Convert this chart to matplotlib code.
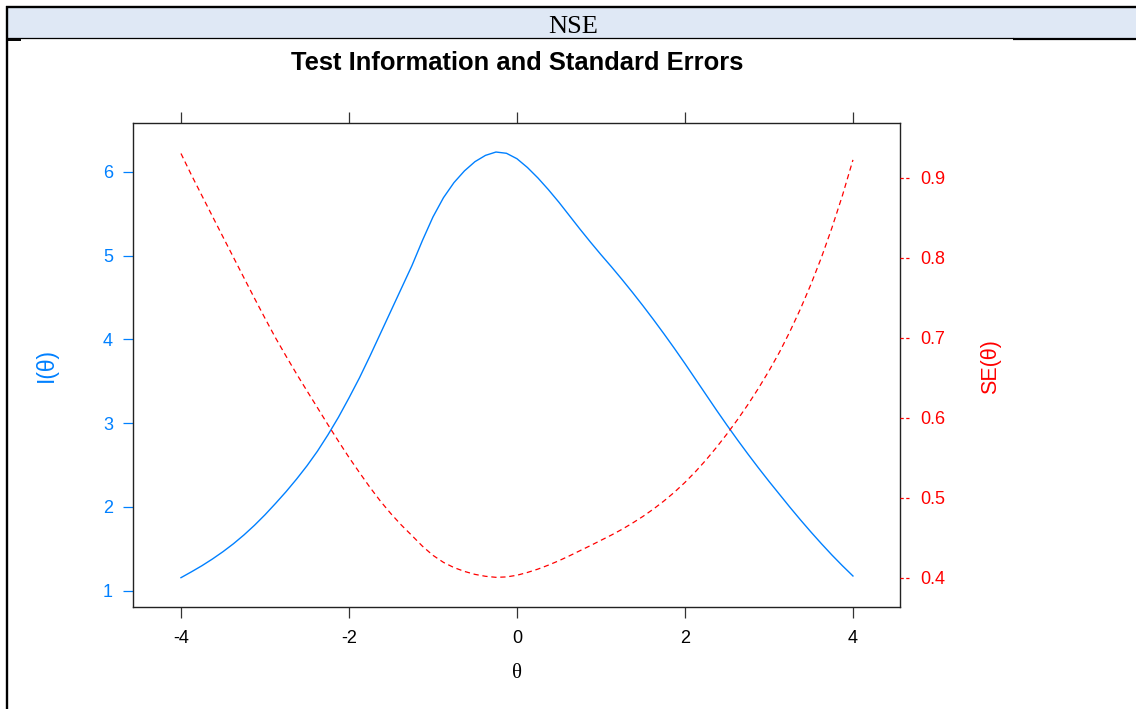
import matplotlib
matplotlib.use("Agg")
import matplotlib.pyplot as plt
from matplotlib.lines import Line2D
from matplotlib.patches import Rectangle

# Test information curve I(theta) and its standard error SE(theta)
theta = [-4.0, -3.875, -3.75, -3.625, -3.5, -3.375, -3.25, -3.125, -3.0,
         -2.875, -2.75, -2.625, -2.5, -2.375, -2.25, -2.125, -2.0, -1.875,
         -1.75, -1.625, -1.5, -1.375, -1.25, -1.125, -1.0, -0.875, -0.75,
         -0.625, -0.5, -0.375, -0.25, -0.125, 0.0, 0.125, 0.25, 0.375, 0.5,
         0.625, 0.75, 0.875, 1.0, 1.125, 1.25, 1.375, 1.5, 1.625, 1.75, 1.875,
         2.0, 2.125, 2.25, 2.375, 2.5, 2.625, 2.75, 2.875, 3.0, 3.125, 3.25,
         3.375, 3.5, 3.625, 3.75, 3.875, 4.0]
info = [1.155, 1.225, 1.298, 1.378, 1.465, 1.56, 1.665, 1.78, 1.905,
        2.04, 2.18, 2.33, 2.49, 2.665, 2.86, 3.07, 3.30, 3.54,
        3.80, 4.07, 4.34, 4.61, 4.88, 5.18, 5.46, 5.69, 5.87,
        6.01, 6.12, 6.195, 6.235, 6.22, 6.155, 6.05, 5.925, 5.785, 5.635,
        5.475, 5.315, 5.16, 5.01, 4.865, 4.715, 4.56, 4.40, 4.235, 4.065, 3.89,
        3.71, 3.525, 3.34, 3.155, 2.975, 2.80, 2.63, 2.465, 2.305, 2.15, 1.995,
        1.845, 1.70, 1.56, 1.425, 1.297, 1.175]
se = [0.9305, 0.9035, 0.8777, 0.8519, 0.8262, 0.8006, 0.7750, 0.7495, 0.7245,
      0.7001, 0.6773, 0.6551, 0.6337, 0.6126, 0.5913, 0.5707, 0.5505, 0.5315,
      0.5130, 0.4957, 0.4800, 0.4657, 0.4527, 0.4394, 0.4280, 0.4192, 0.4127,
      0.4079, 0.4042, 0.4018, 0.4005, 0.4010, 0.4031, 0.4066, 0.4108, 0.4158,
      0.4213, 0.4274, 0.4338, 0.4402, 0.4468, 0.4534, 0.4605, 0.4683, 0.4767,
      0.4859, 0.4960, 0.5070, 0.5192, 0.5326, 0.5472, 0.5630, 0.5798, 0.5976,
      0.6166, 0.6369, 0.6587, 0.6820, 0.7080, 0.7362, 0.7670, 0.8006, 0.8377,
      0.8781, 0.9225]

x_ticks = [-4, -2, 0, 2, 4]
info_ticks = [1, 2, 3, 4, 5, 6]
se_ticks = [0.4, 0.5, 0.6, 0.7, 0.8, 0.9]
se_tick_labels = ["0.4", "0.5", "0.6", "0.7", "0.8", "0.9"]

header_text = "NSE"
title_text = "Test Information and Standard Errors"

BLUE = "#0080ff"
RED = "#ff0000"
SANS = ["Liberation Sans", "DejaVu Sans"]
SERIF = ["Liberation Serif", "DejaVu Serif"]

W, H = 1136, 709
fig = plt.figure(figsize=(W / 100, H / 100), dpi=100)
fig.patch.set_facecolor("white")


def fx(px):
    return px / W


def fy(py):
    return 1 - py / H


# --- table-style header band and frame ---
fig.add_artist(Rectangle((fx(7), fy(38.5)), fx(1136) - fx(7), fy(7.5) - fy(38.5),
                         transform=fig.transFigure, facecolor="#dfe8f5",
                         edgecolor="none", zorder=0))
frame_kw = dict(transform=fig.transFigure, color="black", solid_capstyle="butt")
fig.add_artist(Line2D([fx(6), fx(1136)], [fy(7), fy(7)], lw=1.7, **frame_kw))
fig.add_artist(Line2D([fx(7), fx(7)], [fy(6), fy(709)], lw=1.7, **frame_kw))
fig.add_artist(Line2D([fx(7), fx(1013)], [fy(38.4), fy(38.4)], lw=0.9, **frame_kw))
fig.add_artist(Line2D([fx(1013), fx(1136)], [fy(39), fy(39)], lw=1.6, **frame_kw))
fig.add_artist(Line2D([fx(7), fx(21)], [fy(39.5), fy(39.5)], lw=1.4, **frame_kw))

fig.text(fx(573), fy(32.7), header_text, ha="center", va="baseline",
         fontsize=19, family=SERIF, color="black")

# --- main panel ---
ax = fig.add_axes([fx(133), fy(607), fx(900) - fx(133), fy(122.7) - fy(607)])
ax.plot(theta, info, color=BLUE, lw=1.0, solid_joinstyle="round")
ax.set_xlim(-4.571, 4.56)
ax.set_ylim(0.805, 6.585)
ax.set_xticks(x_ticks)
ax.set_xticklabels([str(t) for t in x_ticks], family=SANS, fontsize=13)
ax.set_yticks(info_ticks)
ax.set_yticklabels([str(t) for t in info_ticks], family=SANS, fontsize=13,
                   color=BLUE)
ax.tick_params(axis="x", which="both", direction="out", length=8, width=0.9,
               color="#333333", top=True, labeltop=False, pad=8.5)
ax.tick_params(axis="y", which="both", direction="out", length=7.5, width=0.9,
               color=BLUE, pad=7)
for sp in ax.spines.values():
    sp.set_linewidth(1.0)
    sp.set_color("#222222")

ax2 = ax.twinx()
ax2.plot(theta, se, color=RED, lw=0.9, linestyle=(0, (4.2, 3.0)))
ax2.set_ylim(0.3634, 0.969)
ax2.set_yticks(se_ticks)
ax2.set_yticklabels(se_tick_labels, family=SANS, fontsize=13, color=RED)
ax2.tick_params(axis="y", length=0, pad=14.5)
for sp in ax2.spines.values():
    sp.set_visible(False)

# dashed tick marks for the SE axis
panel_w_px = 900 - 133
for t in se_ticks:
    ax2.add_line(Line2D([1.0, 1.0 + 11 / panel_w_px], [t, t],
                        transform=ax2.get_yaxis_transform(),
                        color=RED, lw=0.9, linestyle=(0, (2.6, 2.0)),
                        clip_on=False))

# --- titles and axis labels ---
fig.text(fx(517), fy(70), title_text, ha="center", va="baseline",
         fontsize=18.4, fontweight="bold", family=SANS, color="black")
fig.text(fx(46), fy(365), "I(θ)", ha="center", va="center", rotation=90,
         fontsize=16.5, family=SANS, color=BLUE)
fig.text(fx(991), fy(367), "SE(θ)", ha="center", va="center", rotation=90,
         fontsize=15.5, family=SANS, color=RED)
fig.text(fx(517), fy(673), "θ", ha="center", va="center",
         fontsize=15, family=SERIF, color="black")

fig.savefig("out.png", dpi=100, facecolor="white")
